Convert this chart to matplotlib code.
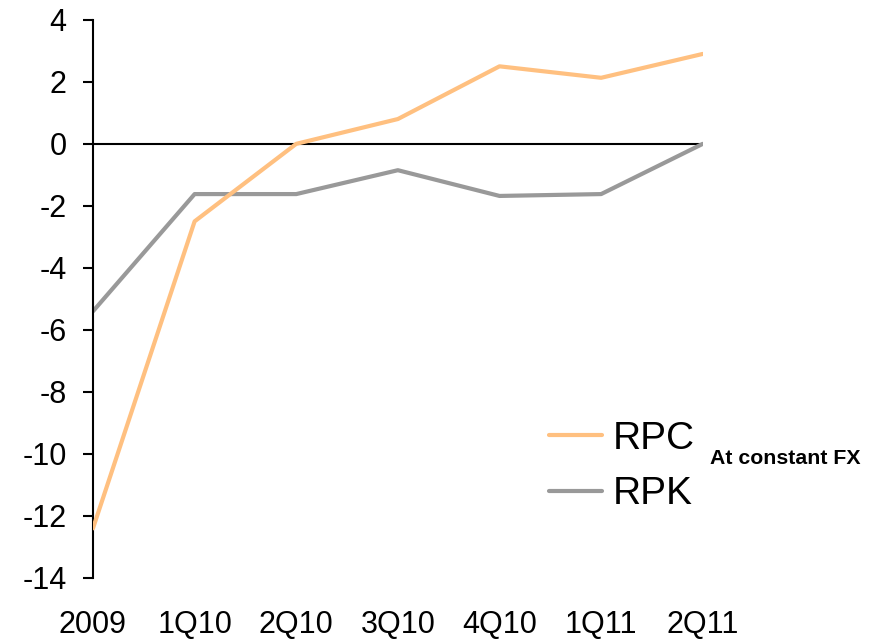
import numpy as np
import matplotlib.pyplot as plt

plt.rcParams['font.family'] = ['Liberation Sans', 'DejaVu Sans']
plt.rcParams['axes.unicode_minus'] = False

quarters = ['2009', '1Q10', '2Q10', '3Q10', '4Q10', '1Q11', '2Q11']
rpc = [-12.4, -2.5, 0.0, 0.8, 2.5, 2.13, 2.9]
rpk = [-5.4, -1.62, -1.62, -0.85, -1.68, -1.62, 0.0]

fig = plt.figure(figsize=(8.73, 6.39), dpi=100)
ax = fig.add_axes([0.1065, 0.0955, 0.6985, 0.8735])

x = np.arange(len(quarters))
ax.axhline(0, color='black', lw=1.5, zorder=1)
ax.plot(x, rpc, color='#FFC080', lw=3, label='RPC', solid_capstyle='round', zorder=3)
ax.plot(x, rpk, color='#999999', lw=3, label='RPK', solid_capstyle='round', zorder=2)

ax.set_xlim(0, len(quarters) - 1)
ax.set_ylim(-14, 4)
ax.set_yticks(np.arange(-14, 5, 2))
ax.set_xticks(x)
ax.set_xticklabels(quarters)

for s in ['top', 'right', 'bottom']:
    ax.spines[s].set_visible(False)
ax.spines['left'].set_linewidth(1.5)
ax.tick_params(axis='y', direction='out', length=7, width=1.5, labelsize=22, pad=12)
ax.tick_params(axis='x', length=0, labelsize=22, pad=23)

leg = ax.legend(loc='lower left', bbox_to_anchor=(0.748, 0.118), frameon=False,
                fontsize=28, handlelength=1.36, handletextpad=0.28, labelspacing=0.5,
                borderpad=0, borderaxespad=0)

fig.text(0.813, 0.283, 'At constant FX', fontsize=15.3, fontweight='bold', va='center')

plt.savefig('out.png', dpi=100)
